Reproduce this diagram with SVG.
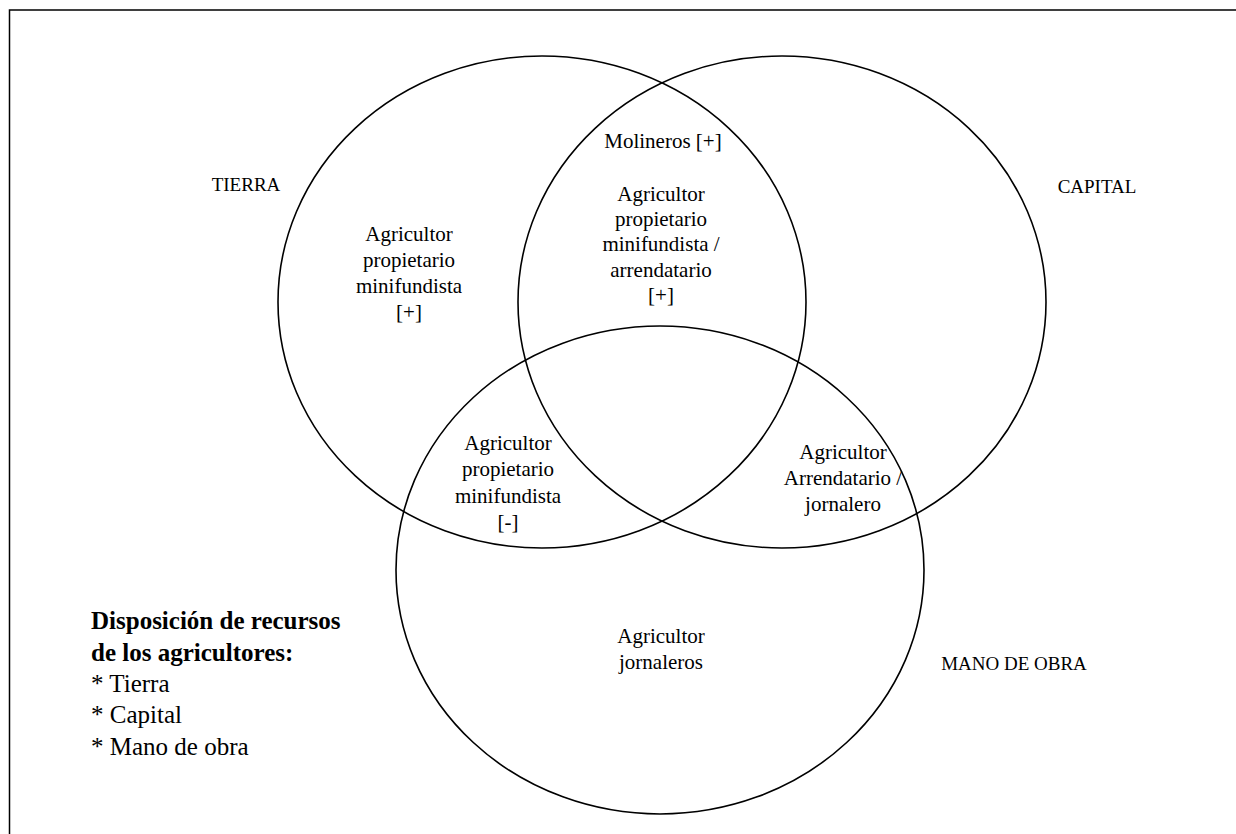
<svg xmlns="http://www.w3.org/2000/svg" width="1236" height="834" viewBox="0 0 1236 834">
<style>
.c{fill:none;stroke:#000;stroke-width:1.6}
.t{font-family:"Liberation Serif","Times New Roman",serif;font-size:21px;fill:#000;text-anchor:middle}
.u{font-family:"Liberation Serif","Times New Roman",serif;font-size:19px;fill:#000;text-anchor:middle}
.l{font-family:"Liberation Serif","Times New Roman",serif;font-size:25px;fill:#000}
.b{font-weight:bold}
</style>
<rect width="1236" height="834" fill="#fff"/>
<path d="M9.5 834 V10 H1236" fill="none" stroke="#000" stroke-width="1.5"/>
<g id="tierra">
<ellipse class="c" cx="542" cy="302" rx="264" ry="246"/>
<text class="u" x="246" y="191">TIERRA</text>
<text class="t" x="409"><tspan x="409" y="241">Agricultor</tspan><tspan x="409" y="267">propietario</tspan><tspan x="409" y="293">minifundista</tspan><tspan x="409" y="319">[+]</tspan></text>
</g>
<g id="capital">
<ellipse class="c" cx="782" cy="302" rx="264" ry="246"/>
<text class="u" x="1097" y="193">CAPITAL</text>
</g>
<g id="mano">
<ellipse class="c" cx="660" cy="570" rx="264" ry="244"/>
<text class="u" x="1014" y="670">MANO DE OBRA</text>
<text class="t"><tspan x="661" y="643">Agricultor</tspan><tspan x="661" y="669">jornaleros</tspan></text>
</g>
<g id="tierra-capital">
<text class="t" x="663" y="148">Molineros [+]</text>
<text class="t"><tspan x="661" y="201">Agricultor</tspan><tspan x="661" y="226">propietario</tspan><tspan x="661" y="251">minifundista /</tspan><tspan x="661" y="277">arrendatario</tspan><tspan x="661" y="302">[+]</tspan></text>
</g>
<g id="tierra-mano">
<text class="t"><tspan x="508" y="450">Agricultor</tspan><tspan x="508" y="476">propietario</tspan><tspan x="508" y="503">minifundista</tspan><tspan x="508" y="529">[-]</tspan></text>
</g>
<g id="capital-mano">
<text class="t"><tspan x="843" y="459">Agricultor</tspan><tspan x="843" y="485">Arrendatario /</tspan><tspan x="843" y="511">jornalero</tspan></text>
</g>
<g id="legend">
<text class="l b" x="91" y="629">Disposición de recursos</text>
<text class="l b" x="91" y="661">de los agricultores:</text>
<text class="l" x="91" y="692">* Tierra</text>
<text class="l" x="91" y="723">* Capital</text>
<text class="l" x="91" y="755">* Mano de obra</text>
</g>
<g id="connectors"></g>
</svg>
